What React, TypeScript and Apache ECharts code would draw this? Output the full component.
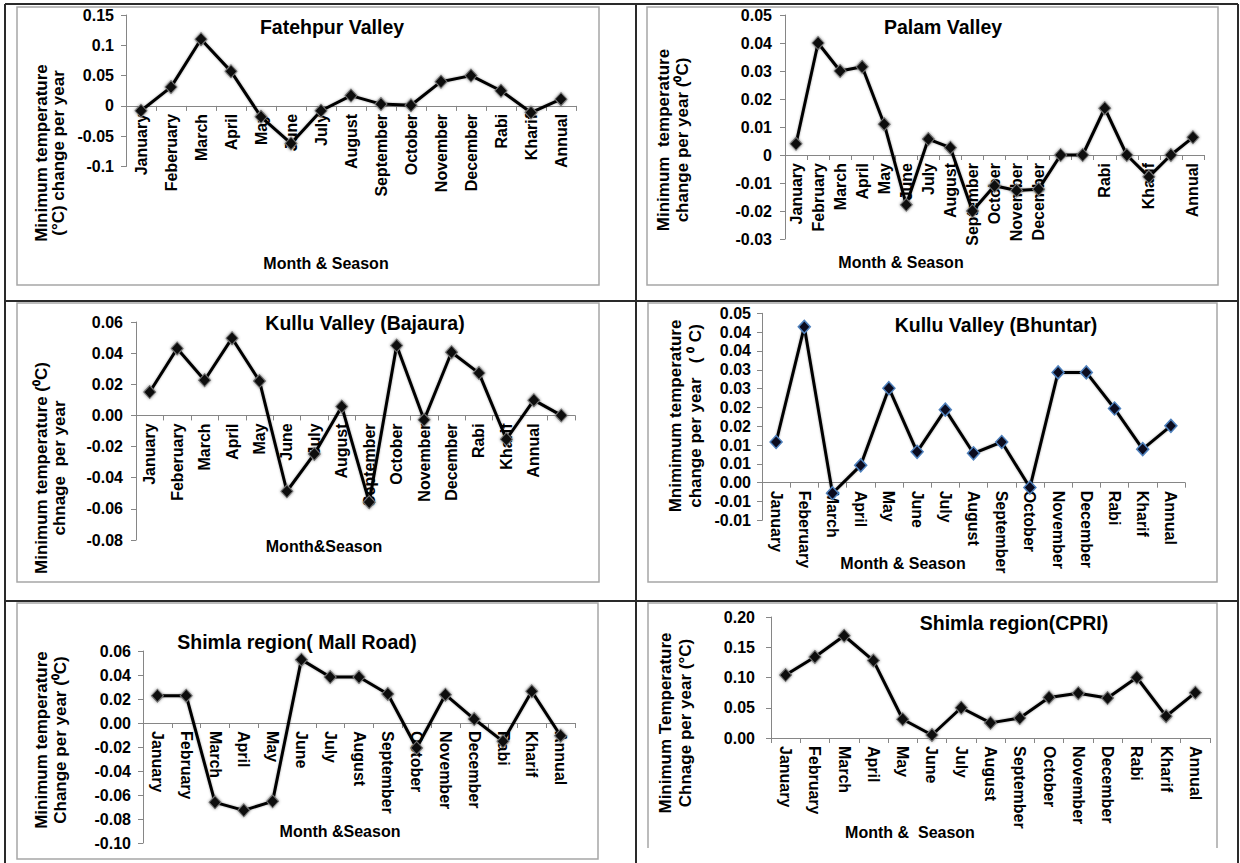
import React, { useEffect, useRef } from "react";
import * as echarts from "echarts";

// ---------- DATA ----------
const fatehpurCats = ["January", "Feberuary", "March", "April", "May", "June", "July", "August", "September", "October", "November", "December", "Rabi", "Kharif", "Annual"];
const fatehpurVals = [-0.008, 0.031, 0.11, 0.057, -0.018, -0.062, -0.008, 0.017, 0.003, 0.001, 0.04, 0.05, 0.025, -0.011, 0.011];
const fatehpurTicks = ["-0.1", "-0.05", "0", "0.05", "0.1", "0.15"];

const palamCats = ["January", "February", "March", "April", "May", "June", "July", "August", "September", "October", "November", "December", "", "", "Rabi", "", "Kharif", "", "Annual"];
const palamVals = [0.004, 0.04, 0.03, 0.0315, 0.011, -0.0178, 0.0057, 0.0026, -0.02, -0.011, -0.0127, -0.0122, 0, 0, 0.0167, 0, -0.0078, 0, 0.0063];
const palamTicks = ["-0.03", "-0.02", "-0.01", "0", "0.01", "0.02", "0.03", "0.04", "0.05"];

const bajauraCats = ["January", "Feberuary", "March", "April", "May", "June", "July", "August", "September", "October", "November", "December", "Rabi", "Kharif", "Annual", ""];
const bajauraVals = [0.015, 0.043, 0.0226, 0.0496, 0.0221, -0.0487, -0.0247, 0.0057, -0.0557, 0.0449, -0.0028, 0.0406, 0.0272, -0.0153, 0.0098, 0];
const bajauraTicks = ["-0.08", "-0.06", "-0.04", "-0.02", "0.00", "0.02", "0.04", "0.06"];

const bhuntarCats = ["January", "Feberuary", "March", "April", "May", "June", "July", "August", "September", "October", "November", "December", "Rabi", "Kharif", "Annual"];
const bhuntarVals = [0.0108, 0.0414, -0.0028, 0.0046, 0.0251, 0.0082, 0.0194, 0.0078, 0.0108, -0.0013, 0.0293, 0.0293, 0.0197, 0.0089, 0.0151];
const bhuntarTicks = ["-0.01", "-0.01", "0.00", "0.01", "0.01", "0.02", "0.02", "0.03", "0.03", "0.04", "0.04", "0.05"];

const mallCats = ["January", "February", "March", "April", "May", "June", "July", "August", "September", "October", "November", "December", "Rabi", "Kharif", "Annual"];
const mallVals = [0.0228, 0.0228, -0.0661, -0.0728, -0.0653, 0.0528, 0.0383, 0.0383, 0.0242, -0.0208, 0.0236, 0.0033, -0.0153, 0.0264, -0.0106];
const mallTicks = ["-0.10", "-0.08", "-0.06", "-0.04", "-0.02", "0.00", "0.02", "0.04", "0.06"];

const cpriCats = ["January", "February", "March", "April", "May", "June", "July", "August", "September", "October", "November", "December", "Rabi", "Kharif", "Annual"];
const cpriVals = [0.104, 0.134, 0.169, 0.128, 0.031, 0.005, 0.05, 0.025, 0.033, 0.067, 0.074, 0.066, 0.1, 0.036, 0.075];
const cpriTicks = ["0.00", "0.05", "0.10", "0.15", "0.20"];

const titles = ["Fatehpur Valley", "Palam Valley", "Kullu Valley (Bajaura)", "Kullu Valley (Bhuntar)", "Shimla region( Mall Road)", "Shimla region(CPRI)"];
const yNames = [
  "Minimum temperature\n(°C) change per year",
  "Minimum  temperature\nchange per year (⁰C)",
  "Minimum temperature (⁰C)\nchnage  per year",
  "Mnimimum temperature\nchange per year   ( ⁰ C)",
  "Minimum temperature\nChange per year (⁰C)",
  "Minimum Temperature\nChnage per year (°C)",
];
const xNames = ["Month & Season", "Month & Season", "Month&Season", "Month & Season", "Month &Season", "Month &  Season"];

// ---------- LAYOUT ----------
const FONT = '"Liberation Sans", Arial, Helvetica, sans-serif';

const panels = [
  { cats: fatehpurCats, vals: fatehpurVals, ticks: fatehpurTicks, min: -0.1, max: 0.15, step: 0.05,
    grid: { left: 126, top: 15, width: 450, height: 151.5 }, rot: 90, yMargin: 12,
    title: [332, 27], yName: [50, 153, 17], xName: [326, 263], frame: [17, 7, 582, 278], blue: false },
  { cats: palamCats, vals: palamVals, ticks: palamTicks, min: -0.03, max: 0.05, step: 0.01,
    grid: { left: 785, top: 15, width: 419, height: 224 }, rot: 90, yMargin: 13,
    title: [943, 27], yName: [673, 140, 19], xName: [901, 262], frame: [647, 7, 571, 278], blue: false },
  { cats: bajauraCats, vals: bajauraVals, ticks: bajauraTicks, min: -0.08, max: 0.06, step: 0.02,
    grid: { left: 136, top: 322, width: 439, height: 218 }, rot: 90, yMargin: 13,
    title: [365, 323], yName: [50, 468, 18], xName: [324, 546], frame: [17, 303, 582, 279], blue: false },
  { cats: bhuntarCats, vals: bhuntarVals, ticks: bhuntarTicks, min: -0.01, max: 0.045, step: 0.005,
    grid: { left: 762, top: 313.3, width: 423, height: 207 }, rot: -90, yMargin: 11,
    title: [996, 325], yName: [685, 416, 20], xName: [903, 563], frame: [648, 303, 569, 279], blue: true },
  { cats: mallCats, vals: mallVals, ticks: mallTicks, min: -0.1, max: 0.06, step: 0.02,
    grid: { left: 143, top: 651, width: 432, height: 192 }, rot: -90, yMargin: 12,
    title: [297, 642], yName: [51, 740, 19], xName: [340, 831], frame: [17, 603, 581, 256], blue: false },
  { cats: cpriCats, vals: cpriVals, ticks: cpriTicks, min: 0, max: 0.2, step: 0.05,
    grid: { left: 771, top: 617, width: 439, height: 121 }, rot: -90, yMargin: 16,
    title: [1014, 623], yName: [675, 723, 20], xName: [910, 832], frame: [648, 603, 569, 245], blue: false },
];

const AXIS_GRAY = "#868686";

function buildOption() {
  const grid: any[] = [];
  const xAxis: any[] = [];
  const yAxis: any[] = [];
  const series: any[] = [];
  const graphic: any[] = [];

  const tableLines = [
    [5, 4, 1238, 4],
    [5, 4, 5, 863],
    [636, 4, 636, 863],
    [1238, 4, 1238, 863],
    [5, 301, 1238, 301],
    [5, 601, 1238, 601],
  ];
  tableLines.forEach(([x1, y1, x2, y2]) => {
    graphic.push({
      type: "line",
      shape: { x1, y1, x2, y2 },
      style: { stroke: "#2a2a2a", lineWidth: 2 },
      silent: true,
      z: 1,
    });
  });

  panels.forEach((p, i) => {
    const [fx, fy, fw, fh] = p.frame;
    if (i === 5) {
      graphic.push({
        type: "polyline",
        shape: { points: [[fx, fy + fh], [fx, fy], [fx + fw, fy], [fx + fw, fy + fh]] },
        style: { stroke: "#a6a6a6", lineWidth: 1.5, fill: "none" },
        silent: true,
        z: 1,
      });
    } else {
      graphic.push({
        type: "rect",
        shape: { x: fx, y: fy, width: fw, height: fh },
        style: { stroke: "#a6a6a6", lineWidth: 1.5, fill: "none" },
        silent: true,
        z: 1,
      });
    }

    grid.push({ ...p.grid, containLabel: false, outerBoundsMode: "none" });

    // the category axis sits on the value axis' zero line (labels included)
    const zeroOffset = -(p.grid.height * (0 - p.min)) / (p.max - p.min);

    const ticks = p.ticks;
    xAxis.push({
      type: "category",
      gridIndex: i,
      position: "bottom",
      offset: zeroOffset,
      data: p.cats,
      boundaryGap: true,
      axisLine: { show: true, onZero: false, lineStyle: { color: AXIS_GRAY, width: 1 } },
      axisTick: { show: true, length: 5, alignWithLabel: false, lineStyle: { color: AXIS_GRAY } },
      axisLabel: {
        interval: 0,
        rotate: p.rot,
        margin: 8,
        color: "#000",
        fontSize: 16,
        fontWeight: "bold",
        fontFamily: FONT,
        hideOverlap: false,
      },
      splitLine: { show: false },
    });
    yAxis.push({
      type: "value",
      gridIndex: i,
      min: p.min,
      max: p.max,
      interval: p.step,
      axisLine: { show: true, onZero: false, lineStyle: { color: AXIS_GRAY, width: 1 } },
      axisTick: { show: true, length: 5, lineStyle: { color: AXIS_GRAY } },
      splitLine: { show: false },
      axisLabel: {
        margin: p.yMargin,
        color: "#000",
        fontSize: 16,
        fontWeight: "bold",
        fontFamily: FONT,
        formatter: (v: number, idx: number) => (ticks[idx] !== undefined ? ticks[idx] : ""),
      },
    });
    series.push({
      type: "line",
      xAxisIndex: i,
      yAxisIndex: i,
      data: p.vals,
      symbol: "diamond",
      symbolSize: [12, 13],
      showAllSymbol: true,
      lineStyle: { color: "#000", width: 3, shadowBlur: 2, shadowColor: "rgba(0,0,0,0.35)" },
      itemStyle: p.blue
        ? { color: "#0b0b1e", borderColor: "#4f81bd", borderWidth: 1.5 }
        : { color: "#111", borderColor: "#777", borderWidth: 1, shadowBlur: 3, shadowColor: "rgba(0,0,0,0.45)" },
      z: 3,
    });

    graphic.push({
      type: "text",
      x: p.title[0],
      y: p.title[1],
      style: {
        text: titles[i],
        fill: "#000",
        fontSize: 19.5,
        fontWeight: "bold",
        fontFamily: FONT,
        textAlign: "center",
        textVerticalAlign: "middle",
        align: "center",
        verticalAlign: "middle",
      },
      z: 5,
    });
    graphic.push({
      type: "text",
      x: p.yName[0],
      y: p.yName[1],
      rotation: Math.PI / 2,
      style: {
        text: yNames[i],
        fill: "#000",
        fontSize: 17,
        lineHeight: p.yName[2],
        fontWeight: "bold",
        fontFamily: FONT,
        textAlign: "center",
        textVerticalAlign: "middle",
        align: "center",
        verticalAlign: "middle",
      },
      z: 5,
    });
    graphic.push({
      type: "text",
      x: p.xName[0],
      y: p.xName[1],
      style: {
        text: xNames[i],
        fill: "#000",
        fontSize: 16,
        fontWeight: "bold",
        fontFamily: FONT,
        textAlign: "center",
        textVerticalAlign: "middle",
        align: "center",
        verticalAlign: "middle",
      },
      z: 5,
    });
  });

  return {
    animation: false,
    backgroundColor: "#ffffff",
    grid,
    xAxis,
    yAxis,
    series,
    graphic: { elements: graphic },
  };
}

export default function App() {
  const ref = useRef<HTMLDivElement | null>(null);
  useEffect(() => {
    if (!ref.current) return;
    const chart = echarts.init(ref.current, undefined, { renderer: "svg" });
    chart.setOption(buildOption() as any);
    return () => {
      chart.dispose();
    };
  }, []);
  return (
    <div
      ref={ref}
      style={{ position: "fixed", left: 0, top: 0, width: 1240, height: 863, background: "#fff" }}
    />
  );
}
